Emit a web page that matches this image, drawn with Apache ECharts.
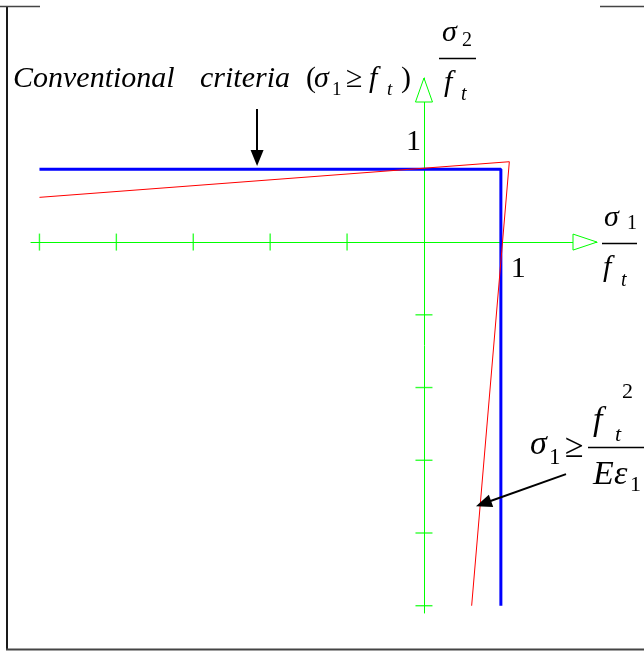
<!DOCTYPE html>
<html>
<head>
<meta charset="utf-8">
<script src="https://cdn.jsdelivr.net/npm/echarts@6/dist/echarts.min.js"></script>
<style>
html, body { margin: 0; padding: 0; background: #fff; }
#chart { width: 644px; height: 651px; }
</style>
</head>
<body>
<div id="chart"></div>
<script>
// Failure envelopes in normalised principal stresses (sigma1/ft, sigma2/ft)
const conventionalX = [-5, 1, 1];
const conventionalY = [1, 1, -5];
const proposedX = [-5, 1.11, 0.62];
const proposedY = [0.615, 1.105, -5];
const xTickValues = [-5, -4, -3, -2, -1];
const yTickValues = [-1, -2, -3, -4, -5];
const unitLabel = '1';

const xRange = [-5.11, 2.25];
const yRange = [-5.10, 2.256];

const pairs = (xs, ys) => xs.map((x, i) => [x, ys[i]]);

const GREEN = '#00ff00';

const chart = echarts.init(document.getElementById('chart'));

const hiddenAxisParts = {
  axisTick: { show: false },
  axisLabel: { show: false },
  splitLine: { show: false }
};

// text placed by its alphabetic baseline
function txt(x, base, s, size, italic) {
  return {
    type: 'text', x: x, y: base - 0.34 * size, z: 20,
    style: {
      text: s, fill: '#000',
      font: (italic ? 'italic ' : '') + size + 'px Liberation Serif',
      align: 'left', verticalAlign: 'middle'
    }
  };
}
function hline(x1, x2, y, w, c) {
  return { type: 'line', z: 20, shape: { x1: x1, y1: y, x2: x2, y2: y }, style: { stroke: c || '#000', lineWidth: w } };
}
function vline(x, y1, y2, w, c) {
  return { type: 'line', z: 20, shape: { x1: x, y1: y1, x2: x, y2: y2 }, style: { stroke: c || '#000', lineWidth: w } };
}

chart.setOption({
  animation: false,
  backgroundColor: '#fff',
  grid: { left: 31, right: 47, top: 78, bottom: 38 },
  xAxis: Object.assign({
    type: 'value', min: xRange[0], max: xRange[1],
    axisLine: { show: true, onZero: true, lineStyle: { color: GREEN, width: 1 } }
  }, hiddenAxisParts),
  yAxis: Object.assign({
    type: 'value', min: yRange[0], max: yRange[1],
    axisLine: { show: true, onZero: true, lineStyle: { color: GREEN, width: 1 } }
  }, hiddenAxisParts),
  series: [
    {
      name: 'xTicks', type: 'scatter', silent: true, z: 2,
      symbol: 'rect', symbolSize: [1.4, 17],
      itemStyle: { color: GREEN },
      data: xTickValues.map(v => [v, 0])
    },
    {
      name: 'yTicks', type: 'scatter', silent: true, z: 2,
      symbol: 'rect', symbolSize: [17, 1.4],
      itemStyle: { color: GREEN },
      data: yTickValues.map(v => [0, v])
    },
    {
      name: 'conventional', type: 'line', silent: true, z: 3,
      showSymbol: false, symbol: 'none',
      lineStyle: { color: '#0000ff', width: 3 },
      data: pairs(conventionalX, conventionalY)
    },
    {
      name: 'proposed', type: 'line', silent: true, z: 4,
      showSymbol: false, symbol: 'none',
      lineStyle: { color: '#ff0000', width: 1 },
      data: pairs(proposedX, proposedY),
      markLine: {
        silent: true,
        symbol: ['none', 'triangle'],
        symbolSize: [13, 16],
        label: { show: false },
        lineStyle: { color: '#000', width: 2, type: 'solid' },
        data: [
          [{ coord: [-2.17, 1.83] }, { coord: [-2.17, 1.155] }],
          [{ coord: [1.847, -3.19] }, { coord: [0.774, -3.594] }]
        ]
      }
    }
  ]
});

const px = (x, y) => chart.convertToPixel({ gridIndex: 0 }, [x, y]);
const xEnd = px(xRange[1], 0);
const yEnd = px(0, yRange[1]);
const yOne = px(0, 1);
const xOne = px(1, 0);

const elements = [
  // open arrowheads at the positive ends of both axes
  { type: 'polygon', z: 10, shape: { points: [[xEnd[0], xEnd[1]], [xEnd[0] - 24, xEnd[1] - 8], [xEnd[0] - 24, xEnd[1] + 8]] },
    style: { fill: '#fff', stroke: GREEN, lineWidth: 1 } },
  { type: 'polygon', z: 10, shape: { points: [[yEnd[0], yEnd[1]], [yEnd[0] - 8.5, yEnd[1] + 24], [yEnd[0] + 8.5, yEnd[1] + 24]] },
    style: { fill: '#fff', stroke: GREEN, lineWidth: 1 } },

  // unit labels
  txt(yOne[0] - 18, yOne[1] - 17, unitLabel, 30, false),
  txt(xOne[0] + 10, xOne[1] + 37, unitLabel, 30, false),

  // sigma2 / ft
  txt(442, 43, 'σ', 30, true),
  txt(462, 48, '2', 20, false),
  hline(439, 476, 58.5, 1.5),
  txt(444, 93, 'f', 30, true),
  txt(461, 102, 't', 20, true),

  // sigma1 / ft
  txt(604, 228, 'σ', 30, true),
  txt(627, 231, '1', 20, false),
  hline(602, 637, 243.5, 1.5),
  txt(603, 278, 'f', 30, true),
  txt(621, 288, 't', 20, true),

  // conventional criterion caption
  txt(13, 89, 'Conventional', 30, true),
  txt(200, 89, 'criteria', 30, true),
  txt(306, 89, '(', 30, false),
  txt(314, 89, 'σ', 30, true),
  txt(332, 96, '1', 19, false),
  txt(346, 89, '≥', 30, false),
  txt(369, 89, 'f', 30, true),
  txt(387, 96, 't', 19, true),
  txt(401, 89, ')', 30, false),

  // sigma1 >= ft^2 / (E eps1)
  txt(530, 457, 'σ', 34, true),
  txt(549, 466, '1', 23, false),
  txt(565, 460, '≥', 34, false),
  hline(588, 644, 447.5, 1.5),
  txt(593, 433, 'f', 34, true),
  txt(615, 443, 't', 22, true),
  txt(622, 400, '2', 22, false),
  txt(593, 487, 'E', 34, true),
  txt(614, 487, 'ε', 34, true),
  txt(630, 493, '1', 22, false),

  // frame
  vline(7, 6, 650, 2, '#1a1a1a'),
  hline(6, 644, 649.5, 2, '#444'),
  hline(0, 40, 6.5, 1.5, '#444'),
  hline(600, 644, 6.5, 1.5, '#444')
];

chart.setOption({ graphic: { elements: elements } });
</script>
</body>
</html>
